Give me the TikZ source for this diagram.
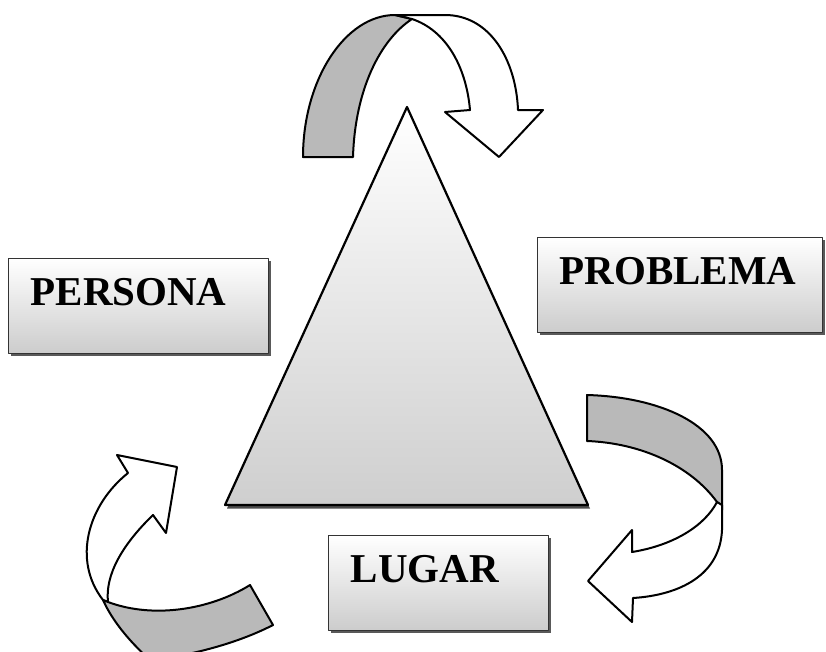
\documentclass[tikz,border=0pt]{standalone}
\usepackage{fontspec}
\setmainfont{Liberation Serif}
\usepackage{tikz}
\usetikzlibrary{shadows}

\begin{document}
\begin{tikzpicture}[x=1pt, y=-1pt, line join=round,
 band/.style={draw, fill=gray!55, line width=2pt},
 face/.style={draw, fill=white, line width=2pt},
 labelbox/.style={draw=black!80, line width=1.3pt, top color=white, middle color=white,
   bottom color=gray!40, anchor=north west, inner xsep=22pt, inner ysep=0pt,
   align=left, text height=47pt, text depth=48pt,
   font=\fontsize{41}{41}\selectfont\bfseries,
   drop shadow={shadow xshift=2.5pt, shadow yshift=-2.5pt, fill=black!65, opacity=1}}]

  \clip (0,0) rectangle (826,651);

  % top arrow
  \path[band] (303,157) .. controls (303,80) and (345,15) .. (395,15) -- (412,19)
    .. controls (380,40) and (355,90) .. (353,157) -- cycle;
  \path[face] (395,15) -- (445,15) .. controls (490,15) and (516,60) .. (518,110)
    -- (543,110) -- (499,157) -- (445,112) -- (470,110)
    .. controls (466,65) and (445,30) .. (412,19) -- cycle;

  % right arrow
  \path[band] (587,395) .. controls (660,397) and (722,425) .. (722,470) -- (722,510)
    -- (717,502) .. controls (690,465) and (640,443) .. (587,441) -- cycle;
  \path[face] (722,505) -- (722,530) .. controls (720,575) and (680,595) .. (633,598)
    -- (632,622) -- (588,581) -- (632,530) -- (632,552)
    .. controls (675,545) and (705,525) .. (717,502) -- cycle;

  % left arrow
  \path[face] (103,600) .. controls (72,560) and (88,505) .. (128,473)
    -- (117,455) -- (177,467) -- (166,533) -- (153,515)
    .. controls (122,545) and (105,575) .. (108,602) -- cycle;
  \path[band] (103,600) .. controls (150,620) and (210,610) .. (250,585) -- (273,625)
    .. controls (240,642) and (195,655) .. (150,660)
    .. controls (128,640) and (112,620) .. (103,600) -- cycle;

  % triangle
  \coordinate (apex) at (407,107);
  \coordinate (left) at (225,505);
  \coordinate (right) at (588,505);
  \fill[black!70] ([shift={(2,3.5)}]apex) -- ([shift={(2,3.5)}]right) -- ([shift={(2,3.5)}]left) -- cycle;
  \path[draw, line width=2.2pt, top color=white, middle color=white!96!gray,
    bottom color=gray!38] (apex) -- (right) -- (left) -- cycle;

  \node[labelbox, text width=216pt] (persona) at (8,258) {PERSONA};
  \node[labelbox, text width=241pt] (problema) at (537,237) {PROBLEMA};
  \node[labelbox, text width=176pt] (lugar) at (328,535) {LUGAR};
\end{tikzpicture}
\end{document}
